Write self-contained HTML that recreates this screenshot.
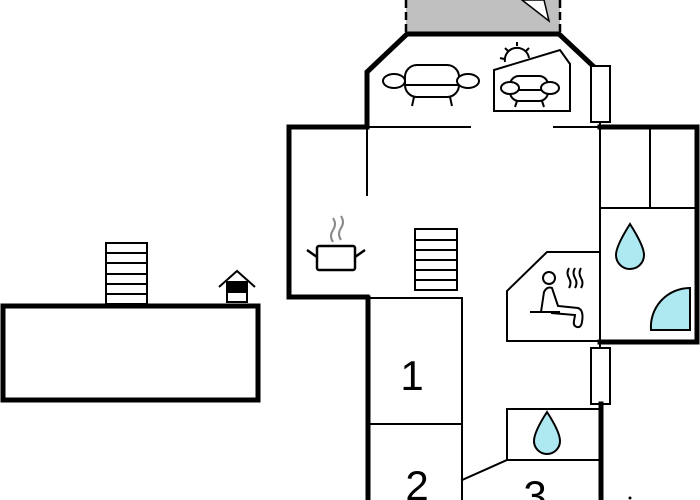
<!DOCTYPE html>
<html><head><style>html,body{margin:0;padding:0;background:#fff}svg{display:block}</style></head>
<body>
<svg width="700" height="500" viewBox="0 0 700 500" xmlns="http://www.w3.org/2000/svg" font-family="Liberation Sans, sans-serif">
<!-- grey terrace -->
<rect x="406" y="0" width="154" height="33" fill="#c0c0c0"/>
<line x1="406" y1="0" x2="406" y2="33" stroke="#000" stroke-width="2.5" stroke-dasharray="8,4"/>
<line x1="560" y1="0" x2="560" y2="33" stroke="#000" stroke-width="2.5" stroke-dasharray="8,4"/>
<polygon points="522,0 549,21 544,0" fill="#fff" stroke="#000" stroke-width="1.5"/>
<g fill="none" stroke="#000" stroke-linecap="square">
<!-- octagon -->
<polyline points="367,127 367,72 407,34 559,34 593,66" stroke-width="5"/>
<rect x="591" y="66" width="19" height="56" stroke-width="2" fill="#fff"/>
<!-- main room -->
<polyline points="367,127 289,127 289,297 367,297" stroke-width="5"/>
<line x1="367" y1="127" x2="470" y2="127" stroke-width="2"/>
<line x1="554" y1="127" x2="600" y2="127" stroke-width="2"/>
<line x1="367" y1="127" x2="367" y2="195" stroke-width="2"/>
<line x1="367" y1="298" x2="462" y2="298" stroke-width="2"/>
<!-- right block -->
<polyline points="600,127 697,127 697,342 600,342" stroke-width="5"/>
<line x1="600" y1="122" x2="600" y2="348" stroke-width="2"/>
<line x1="650" y1="127" x2="650" y2="208" stroke-width="2"/>
<line x1="600" y1="208" x2="697" y2="208" stroke-width="2"/>
<!-- sauna -->
<polyline points="600,252 547,252 507,291 507,341 600,341" stroke-width="2"/>
<!-- door bottom -->
<rect x="591" y="348" width="19" height="56" stroke-width="2" fill="#fff"/>
<line x1="601" y1="404" x2="601" y2="500" stroke-width="5"/>
<!-- bath 3 -->
<rect x="507" y="409" width="93" height="51" stroke-width="2"/>
<line x1="462" y1="480" x2="507" y2="460" stroke-width="2"/>
<!-- corridor rooms -->
<line x1="368" y1="298" x2="368" y2="500" stroke-width="5"/>
<line x1="462" y1="298" x2="462" y2="500" stroke-width="2"/>
<line x1="368" y1="424" x2="462" y2="424" stroke-width="2"/>
<!-- left building -->
<rect x="3" y="306" width="255" height="94" stroke-width="5"/>
<rect x="106" y="243" width="41" height="61" stroke-width="2"/>
<!-- stairs main -->
<rect x="415" y="229" width="42" height="61" stroke-width="2"/>
</g>
<g stroke="#000" stroke-width="2">
<line x1="106" y1="253" x2="147" y2="253"/><line x1="106" y1="263" x2="147" y2="263"/><line x1="106" y1="274" x2="147" y2="274"/><line x1="106" y1="284" x2="147" y2="284"/><line x1="106" y1="294" x2="147" y2="294"/>
<line x1="415" y1="240" x2="457" y2="240"/><line x1="415" y1="250" x2="457" y2="250"/><line x1="415" y1="260" x2="457" y2="260"/><line x1="415" y1="270" x2="457" y2="270"/><line x1="415" y1="280" x2="457" y2="280"/>
</g>
<!-- house icon -->
<g stroke="#000" stroke-width="2" fill="none">
<polyline points="219,287 237,271 255,287"/>
<rect x="227" y="282" width="20" height="20" fill="#fff"/>
<rect x="227" y="282" width="20" height="10" fill="#000"/>
</g>
<!-- pot -->
<g stroke="#000" stroke-width="2.5" fill="none">
<rect x="317" y="246" width="38" height="24" rx="2"/>
<line x1="307" y1="250" x2="317" y2="257"/><line x1="365" y1="250" x2="355" y2="257"/>
<path d="M333 242 q-4 -6 0 -12 q4 -6 0 -12" stroke="#888" stroke-width="2"/>
<path d="M341 240 q-4 -6 0 -12 q4 -6 0 -12" stroke="#888" stroke-width="2"/>
</g>
<!-- sofas -->
<g stroke="#000" stroke-width="2" fill="#fff">
<rect x="405" y="65" width="54" height="32" rx="12"/>
<line x1="405" y1="85" x2="459" y2="85"/>
<ellipse cx="394" cy="81" rx="11" ry="7"/>
<ellipse cx="468" cy="81" rx="11" ry="7"/>
<line x1="414" y1="97" x2="412" y2="106"/><line x1="450" y1="97" x2="452" y2="106"/>
<polygon points="494,70 560,50 570,64 570,111 494,111" fill="none"/>
<path d="M505 62 a12 12 0 0 1 24 -4" fill="none"/>
<line x1="517" y1="42" x2="517" y2="46"/><line x1="505" y1="48" x2="508" y2="51"/><line x1="529" y1="48" x2="526" y2="51"/><line x1="500" y1="58" x2="504" y2="59"/>
<rect x="510" y="76" width="38" height="25" rx="9"/>
<line x1="510" y1="90" x2="548" y2="90"/>
<ellipse cx="510" cy="88" rx="9" ry="6"/>
<ellipse cx="550" cy="88" rx="9" ry="6"/>
<line x1="517" y1="101" x2="515" y2="107"/><line x1="542" y1="101" x2="544" y2="107"/>
</g>
<!-- sauna figure -->
<g stroke="#000" stroke-width="2" fill="none">
<circle cx="549" cy="278" r="6"/>
<path d="M541 312 l3 -20 q3 -6 8 -4 l6 18 l20 2 q6 2 4 14 q-1 6 -5 5 q-4 -1 -3 -6 l1 -6 l-24 -2"/>
<line x1="530" y1="312" x2="560" y2="312"/>
<path d="M569 268 q-3 5 0 10 q3 5 0 10" /><path d="M575 268 q-3 5 0 10 q3 5 0 10"/><path d="M581 268 q-3 5 0 10 q3 5 0 10"/>
</g>
<!-- drops -->
<path d="M630 224 q-14 22 -14 31 a14 14 0 0 0 28 0 q0 -9 -14 -31z" fill="#aee8f0" stroke="#000" stroke-width="2"/>
<path d="M547 412 q-13 20 -13 29 a13 13 0 0 0 26 0 q0 -9 -13 -29z" fill="#aee8f0" stroke="#000" stroke-width="2"/>
<path d="M690 330 L651 330 A39 39 0 0 1 690 288 Z" fill="#aee8f0" stroke="#000" stroke-width="2"/>
<!-- labels -->
<text x="412" y="390" font-size="42" text-anchor="middle">1</text>
<text x="417" y="500" font-size="42" text-anchor="middle">2</text>
<text x="535" y="510" font-size="42" text-anchor="middle">3</text>
<circle cx="630" cy="498" r="1.5" fill="#000"/>
</svg>
</body></html>
